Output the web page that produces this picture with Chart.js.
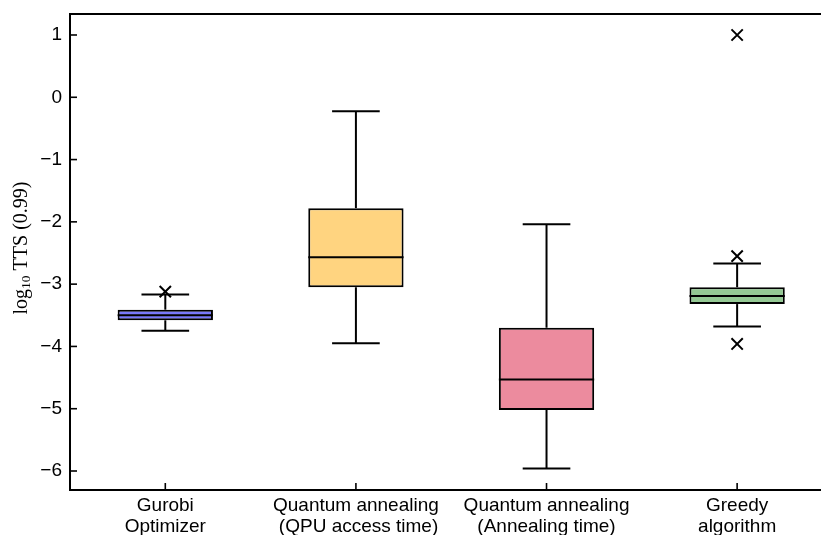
<!DOCTYPE html>
<html>
<head>
<meta charset="utf-8">
<script src="https://cdn.jsdelivr.net/npm/chart.js@4/dist/chart.umd.min.js"></script>
<style>
  html, body { margin: 0; padding: 0; background: #fff; overflow: hidden; }
  #wrap { width: 821px; height: 535px; position: relative; }
</style>
</head>
<body>
<div id="wrap"><canvas id="chart"></canvas></div>
<script>
// box plot values (log10 of TTS)
const categories = [
  ['Gurobi', 'Optimizer'],
  ['Quantum annealing', ' (QPU access time)'],
  ['Quantum annealing', '(Annealing time)'],
  ['Greedy', 'algorithm']
];
const whiskerLow  = [-3.75, -3.95, -5.96, -3.68];
const boxLow      = [-3.58, -3.05, -5.02, -3.32];
const medians     = [-3.50, -2.57, -4.53, -3.19];
const boxHigh     = [-3.41, -1.78, -3.70, -3.05];
const whiskerHigh = [-3.165, -0.225, -2.04, -2.67];
const outlierCat  = [0, 3, 3, 3];
const outlierVal  = [-3.12, 1.0, -2.55, -3.96];
const boxColors   = ['#7878fc', '#ffd480', '#ec8b9e', '#94c994'];
const yTicks = [-6, -5, -4, -3, -2, -1, 0, 1];

const FONT = 'Liberation Sans, Arial, sans-serif';

// whiskers, caps, medians, inward ticks, top frame and the y title
const boxExtras = {
  id: 'boxExtras',
  afterDatasetsDraw(chart) {
    const { ctx, scales: { x, y }, chartArea: a } = chart;
    ctx.save();
    ctx.strokeStyle = '#000';
    ctx.lineWidth = 2;
    const line = (x1, y1, x2, y2) => {
      ctx.beginPath(); ctx.moveTo(x1, y1); ctx.lineTo(x2, y2); ctx.stroke();
    };
    categories.forEach((_, i) => {
      const cx = x.getPixelForValue(i);
      const capL = x.getPixelForValue(i - 0.125), capR = x.getPixelForValue(i + 0.125);
      const boxL = x.getPixelForValue(i - 0.25), boxR = x.getPixelForValue(i + 0.25);
      line(cx, y.getPixelForValue(boxHigh[i]), cx, y.getPixelForValue(whiskerHigh[i]));
      line(cx, y.getPixelForValue(boxLow[i]), cx, y.getPixelForValue(whiskerLow[i]));
      line(capL, y.getPixelForValue(whiskerHigh[i]), capR, y.getPixelForValue(whiskerHigh[i]));
      line(capL, y.getPixelForValue(whiskerLow[i]), capR, y.getPixelForValue(whiskerLow[i]));
      line(boxL, y.getPixelForValue(medians[i]), boxR, y.getPixelForValue(medians[i]));
    });
    // frame top
    line(a.left, a.top, a.right, a.top);
    // inward ticks
    ctx.lineWidth = 1.6;
    yTicks.forEach(v => {
      const py = y.getPixelForValue(v);
      line(a.left, py, a.left + 7, py);
    });
    categories.forEach((_, i) => {
      const px = x.getPixelForValue(i);
      line(px, a.bottom, px, a.bottom - 7);
    });
    // y axis title: log10 TTS (0.99)
    ctx.translate(22, (a.top + a.bottom) / 2 - 4);
    ctx.rotate(-Math.PI / 2);
    ctx.fillStyle = '#000';
    ctx.textBaseline = 'middle';
    const big = '20px "Liberation Serif", "Times New Roman", serif';
    const small = '13.5px "Liberation Serif", "Times New Roman", serif';
    ctx.font = big;
    const w1 = ctx.measureText('log').width;
    const w3 = ctx.measureText(' TTS (0.99)').width;
    ctx.font = small;
    const w2 = ctx.measureText('10').width;
    let sx = -(w1 + w2 + w3) / 2;
    ctx.font = big; ctx.fillText('log', sx, 0); sx += w1;
    ctx.font = small; ctx.fillText('10', sx, 4); sx += w2;
    ctx.font = big; ctx.fillText(' TTS (0.99)', sx, 0);
    ctx.restore();
  }
};

new Chart(document.getElementById('chart'), {
  type: 'bar',
  data: {
    datasets: [{
      type: 'bar',
      data: categories.map((_, i) => ({ x: i, y: [boxLow[i], boxHigh[i]] })),
      backgroundColor: boxColors,
      borderColor: '#000',
      borderWidth: 2,
      borderSkipped: false,
      categoryPercentage: 1,
      barPercentage: 0.5
    }, {
      type: 'scatter',
      data: outlierCat.map((c, i) => ({ x: c, y: outlierVal[i] })),
      pointStyle: 'crossRot',
      pointRadius: 8,
      borderColor: '#000',
      borderWidth: 2,
      backgroundColor: '#000'
    }]
  },
  options: {
    responsive: true,
    maintainAspectRatio: false,
    animation: false,
    layout: { autoPadding: false, padding: { top: 14, right: 0, left: 0, bottom: 0 } },
    plugins: { legend: { display: false }, tooltip: { enabled: false } },
    scales: {
      x: {
        type: 'linear',
        offset: false,
        min: -0.5,
        max: 3.44,
        afterBuildTicks: s => { s.ticks = categories.map((_, i) => ({ value: i })); },
        afterFit: s => { s.height = 45; s.paddingLeft = 0; s.paddingRight = 0; },
        grid: { display: true, drawOnChartArea: false, drawTicks: false },
        border: { display: true, color: '#000', width: 2 },
        ticks: {
          autoSkip: false,
          maxRotation: 0,
          padding: 5,
          color: '#000',
          font: { family: FONT, size: 19, lineHeight: 1.1 },
          callback: v => categories[v]
        }
      },
      y: {
        type: 'linear',
        beginAtZero: false,
        min: -6.305,
        max: 1.337,
        afterBuildTicks: s => { s.ticks = yTicks.map(v => ({ value: v })); },
        afterFit: s => { s.width = 70; s.paddingTop = 0; s.paddingBottom = 0; },
        grid: { display: true, drawOnChartArea: false, drawTicks: false },
        border: { display: true, color: '#000', width: 2 },
        ticks: {
          padding: 8,
          color: '#000',
          font: { family: FONT, size: 19 },
          callback: v => v < 0 ? '\u2212' + Math.abs(v) : String(v)
        }
      }
    }
  },
  plugins: [boxExtras]
});
</script>
</body>
</html>
